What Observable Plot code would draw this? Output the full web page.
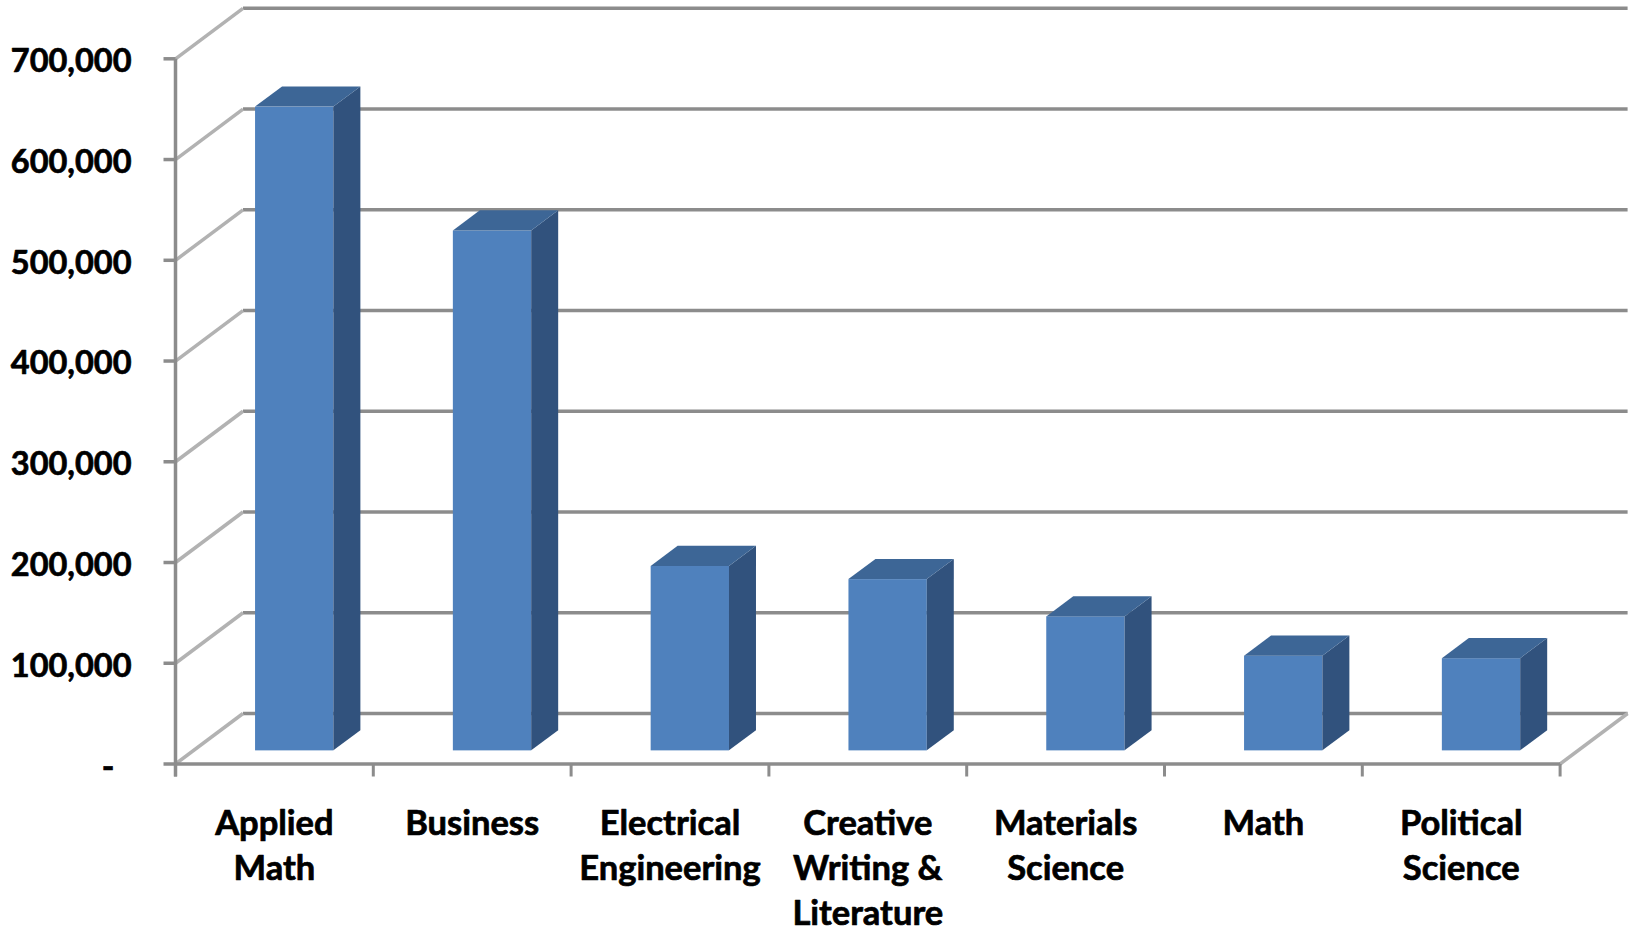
<!DOCTYPE html>
<html>
<head>
<meta charset="utf-8">
<script src="https://cdn.jsdelivr.net/npm/d3@7"></script>
<script src="https://cdn.jsdelivr.net/npm/@observablehq/plot@0.6"></script>
<style>
  body { margin: 0; background: #fff; }
  svg { display: block; }
</style>
</head>
<body>
<div id="chart"></div>
<script>
// ---- data ----
const categories = ["Applied\nMath", "Business", "Electrical\nEngineering", "Creative\nWriting &\nLiterature", "Materials\nScience", "Math", "Political\nScience"];
const values = [639000, 516000, 183000, 170000, 133000, 94000, 91500];
const yTicks = [0, 100000, 200000, 300000, 400000, 500000, 600000, 700000];
const yTickLabels = ["-", "100,000", "200,000", "300,000", "400,000", "500,000", "600,000", "700,000"];

// ---- layout ----
const W = 1629, H = 933;
const ML = 175, MR = 69.4, MT = 58.3, MB = 169.5;
const N = categories.length;
const yMax = 700000;
const pxX = (W - ML - MR) / N;
const pxY = (H - MT - MB) / yMax;
const dX = 67.5 / pxX;      // depth offset in x data units
const dY = 50.5 / pxY;      // depth offset in y data units
const f1 = 0.26, f2 = 0.66; // bar front/back depth fraction
const barOff = 0.316, barW = 0.396;

const frontColor = "#4f81bd", topColor = "#3d6696", sideColor = "#31527d";
const gridColor = "#8c8c8c", wallColor = "#b2b2b2";
const font = "Lato, 'Open Sans', sans-serif";

const bars = values.map((v, i) => {
  const xl = i + barOff + f1 * dX;
  return {i, v, xl, xr: xl + barW, yb: f1 * dY, yt: v + f1 * dY};
});
const depthX = (f2 - f1) * dX, depthY = (f2 - f1) * dY;
const sidePts = bars.flatMap(b => [
  {z: b.i, x: b.xr, y1: b.yb, y2: b.yt},
  {z: b.i, x: b.xr + depthX, y1: b.yb + depthY, y2: b.yt + depthY}
]);
const topPts = bars.flatMap(b => [
  {z: b.i, y: b.yt, x1: b.xl, x2: b.xr},
  {z: b.i, y: b.yt + depthY, x1: b.xl + depthX, x2: b.xr + depthX}
]);
const slots = d3.range(N + 1);

const textStyle = {fontWeight: "bold", fill: "#000", stroke: "#000", strokeWidth: 0.7, fontFamily: font};

const chart = Plot.plot({
  width: W, height: H,
  marginLeft: ML, marginRight: MR, marginTop: MT, marginBottom: MB,
  x: {type: "linear", domain: [0, N], axis: null},
  y: {type: "linear", domain: [0, yMax], axis: null},
  style: {fontFamily: font, background: "#fff"},
  marks: [
    // back wall gridlines
    Plot.link(yTicks, {x1: () => dX, x2: () => N + dX, y1: d => d + dY, y2: d => d + dY, stroke: gridColor, strokeWidth: 3.5}),
    // left wall diagonals
    Plot.link(yTicks, {x1: () => 0, x2: () => dX, y1: d => d, y2: d => d + dY, stroke: wallColor, strokeWidth: 3.5}),
    // floor right edge
    Plot.link([0], {x1: () => N, x2: () => N + dX, y1: () => 0, y2: () => dY, stroke: wallColor, strokeWidth: 3.5}),
    // front baseline
    Plot.link([0], {x1: () => 0, x2: () => N, y1: () => 0, y2: () => 0, stroke: gridColor, strokeWidth: 3.5}),
    // front y axis line
    Plot.link([0], {x1: () => 0, x2: () => 0, y1: () => -12.5 / pxY, y2: () => yMax, stroke: gridColor, strokeWidth: 3.5}),
    // y ticks
    Plot.link(yTicks, {x1: () => -12 / pxX, x2: () => 0, y1: d => d, y2: d => d, stroke: gridColor, strokeWidth: 3.5}),
    // x ticks
    Plot.link(slots, {x1: d => d, x2: d => d, y1: () => 0, y2: () => -12.5 / pxY, stroke: gridColor, strokeWidth: 3}),
    // bars: front faces
    Plot.rect(bars, {x1: "xl", x2: "xr", y1: "yb", y2: "yt", fill: frontColor}),
    // side faces
    Plot.areaY(sidePts, {x: "x", y1: "y1", y2: "y2", z: "z", fill: sideColor}),
    // top faces
    Plot.areaX(topPts, {y: "y", x1: "x1", x2: "x2", z: "z", fill: topColor}),
    // y tick labels
    Plot.text(yTicks.slice(1), {x: () => 0, y: d => d, text: (d, i) => yTickLabels[i + 1], textAnchor: "end", dx: -44, dy: 3, fontSize: 32.5, ...textStyle}),
    Plot.text([yTicks[0]], {x: () => 0, y: d => d, text: () => yTickLabels[0], textAnchor: "end", dx: -61, dy: 4, fontSize: 34, ...textStyle}),
    // category labels
    Plot.text(categories, {x: (d, i) => i + 0.5, y: () => 0, text: d => d, lineAnchor: "top", dy: 39.5, lineHeight: 1.3, fontSize: 34.5, ...textStyle})
  ]
});
document.getElementById("chart").append(chart);
</script>
</body>
</html>
